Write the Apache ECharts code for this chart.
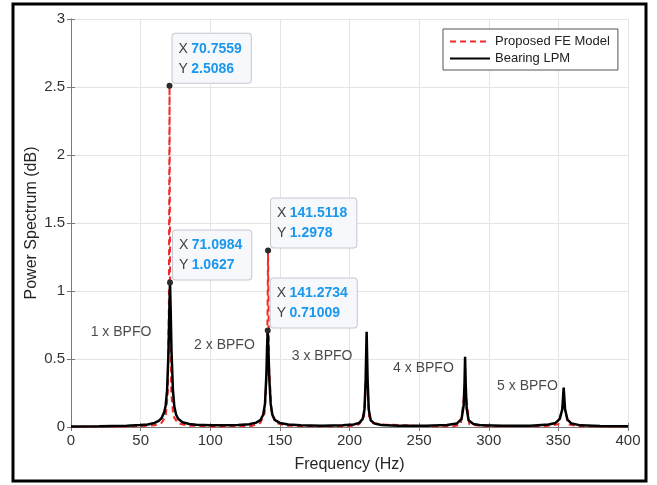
<!DOCTYPE html>
<html>
<head>
<meta charset="utf-8">
<script src="https://cdn.jsdelivr.net/npm/echarts@6/dist/echarts.min.js"></script>
<style>
  html, body { margin: 0; padding: 0; background: #fff; }
  #chart { width: 657px; height: 485px; }
</style>
</head>
<body>
<div id="chart"></div>
<script>
// 频谱数据
var lpmFreq = [0, 20, 40, 50, 55, 60, 63, 65, 67, 68, 69, 70, 70.6, 71.0984, 71.6, 72.2, 73.2, 74.2, 75.5, 77, 80, 85, 90, 100, 110, 120, 128, 133, 136, 138, 139.3, 140.3, 140.8, 141.2734, 141.8, 142.4, 143.4, 144.6, 146.5, 150, 156, 165, 180, 195, 203, 207, 209.5, 210.8, 211.6, 212.3, 213, 213.8, 215.2, 218, 223, 235, 255, 270, 277, 280.5, 282, 282.6, 283.0, 283.5, 284.1, 285.5, 289, 295, 310, 330, 343, 348, 351, 352.8, 353.8, 354.8, 356.5, 359.5, 366, 380, 400];
var lpmPower = [0.004, 0.006, 0.01, 0.014, 0.018, 0.03, 0.045, 0.065, 0.11, 0.16, 0.27, 0.55, 0.85, 1.0627, 0.85, 0.55, 0.27, 0.15, 0.09, 0.06, 0.035, 0.022, 0.016, 0.012, 0.012, 0.014, 0.02, 0.032, 0.05, 0.09, 0.17, 0.38, 0.58, 0.71009, 0.56, 0.36, 0.17, 0.09, 0.05, 0.03, 0.018, 0.012, 0.01, 0.012, 0.018, 0.03, 0.06, 0.13, 0.35, 0.70, 0.35, 0.13, 0.05, 0.025, 0.014, 0.01, 0.01, 0.014, 0.025, 0.06, 0.16, 0.32, 0.517, 0.3, 0.14, 0.05, 0.022, 0.012, 0.009, 0.01, 0.018, 0.03, 0.06, 0.13, 0.29, 0.13, 0.055, 0.025, 0.012, 0.008, 0.006];

var feFreq = [0, 30, 50, 60, 65, 68, 69.5, 70.3, 70.7559, 71.2, 72, 73.5, 77, 85, 100, 120, 130, 136, 139, 140.8, 141.5118, 142.2, 144, 147, 155, 170, 200, 207, 210.5, 212.27, 214, 217, 225, 240, 255, 275, 280, 283.0, 286, 295, 340, 350, 353.8, 357, 365, 400];
var fePower = [0.002, 0.003, 0.006, 0.012, 0.03, 0.08, 0.25, 0.9, 2.5086, 0.9, 0.25, 0.08, 0.025, 0.01, 0.004, 0.005, 0.008, 0.03, 0.1, 0.45, 1.2978, 0.45, 0.1, 0.03, 0.01, 0.005, 0.006, 0.02, 0.08, 0.45, 0.08, 0.03, 0.018, 0.012, 0.006, 0.006, 0.02, 0.3, 0.02, 0.006, 0.005, 0.02, 0.18, 0.02, 0.005, 0.003];

var seriesNames = ['Proposed FE Model', 'Bearing LPM'];
var xTicks = [0, 50, 100, 150, 200, 250, 300, 350, 400];
var yTicks = [0, 0.5, 1, 1.5, 2, 2.5, 3];

// 数据提示框
var feTips = [[70.7559, 2.5086], [141.5118, 1.2978]];
var lpmTips = [[71.0984, 1.0627], [141.2734, 0.71009]];

// 谐波标注
var harmonicText = ['1 x BPFO', '2 x BPFO', '3 x BPFO', '4 x BPFO', '5 x BPFO'];
var harmonicX = [35.9, 110.2, 180.3, 253.1, 327.8];
var harmonicY = [0.70, 0.60, 0.52, 0.435, 0.30];

var FONT = 'Liberation Sans, Arial, sans-serif';

function zip(a, b) {
    return a.map(function (v, i) { return [v, b[i]]; });
}

function tipFormat(v) {
    return '{k|X} {v|' + v[0] + '}\n{k|Y} {v|' + v[1] + '}';
}

function tipMarks(tips) {
    return {
        symbol: 'circle',
        symbolSize: 6,
        itemStyle: { color: '#2b2b2b' },
        label: {
            show: true,
            position: [6, -49],
            align: 'left',
            verticalAlign: 'top',
            backgroundColor: '#f6f8fb',
            borderColor: '#c4c8cf',
            borderWidth: 1,
            borderRadius: 3,
            padding: [5, 9, 4, 6],
            lineHeight: 20,
            formatter: function (p) { return tipFormat(p.data.coord); },
            rich: {
                k: { color: '#404040', fontSize: 14, fontFamily: FONT, lineHeight: 20 },
                v: { color: '#1a98ee', fontSize: 14, fontWeight: 'bold', fontFamily: FONT, lineHeight: 20 }
            }
        },
        data: tips.map(function (t) { return { coord: t }; })
    };
}

var chart = echarts.init(document.getElementById('chart'));

var axisLineColor = '#7a7a7a';

var option = {
    animation: false,
    backgroundColor: '#fff',
    grid: { left: 71, right: 29, top: 19, bottom: 58 },
    legend: {
        data: seriesNames,
        orient: 'vertical',
        left: 443,
        top: 29,
        itemWidth: 40,
        itemHeight: 12,
        itemGap: 4,
        padding: [6, 8, 5, 6],
        borderColor: '#555',
        borderWidth: 1,
        backgroundColor: '#fff',
        itemStyle: { opacity: 0 },
        textStyle: { fontSize: 13, color: '#222', fontFamily: FONT }
    },
    xAxis: [
        {
            type: 'value', min: 0, max: 400, interval: 50,
            name: 'Frequency (Hz)', nameLocation: 'middle', nameGap: 30,
            nameMoveOverlap: false,
            nameTextStyle: { fontSize: 16, color: '#262626', fontFamily: FONT },
            axisLine: { lineStyle: { color: axisLineColor } },
            axisTick: { inside: true, length: 4, lineStyle: { color: axisLineColor } },
            axisLabel: { margin: 6, fontSize: 15, color: '#333', fontFamily: FONT,
                         formatter: function (v) { return xTicks.indexOf(v) >= 0 ? v : ''; } },
            splitLine: { show: true, lineStyle: { color: '#e4e4e4' } }
        },
        {
            type: 'value', min: 0, max: 400, interval: 50, position: 'top',
            axisLine: { show: true, lineStyle: { color: axisLineColor } },
            axisTick: { inside: true, length: 4, lineStyle: { color: axisLineColor } },
            axisLabel: { show: false },
            splitLine: { show: false }
        }
    ],
    yAxis: [
        {
            type: 'value', min: 0, max: 3, interval: 0.5,
            name: 'Power Spectrum (dB)', nameLocation: 'middle', nameGap: 31,
            nameMoveOverlap: false,
            nameTextStyle: { fontSize: 16, color: '#262626', fontFamily: FONT },
            axisLine: { show: true, lineStyle: { color: axisLineColor } },
            axisTick: { show: true, inside: true, length: 4, lineStyle: { color: axisLineColor } },
            axisLabel: { margin: 6, fontSize: 15, color: '#333', fontFamily: FONT,
                         formatter: function (v) { return yTicks.indexOf(v) >= 0 ? v : ''; } },
            splitLine: { show: true, lineStyle: { color: '#e4e4e4' } }
        },
        {
            type: 'value', min: 0, max: 3, interval: 0.5, position: 'right',
            axisLine: { show: true, lineStyle: { color: axisLineColor } },
            axisTick: { show: true, inside: true, length: 4, lineStyle: { color: axisLineColor } },
            axisLabel: { show: false },
            splitLine: { show: false }
        }
    ],
    graphic: [
        {
            type: 'rect',
            shape: { x: 13, y: 4, width: 633, height: 477 },
            style: { fill: 'none', stroke: '#000', lineWidth: 3 },
            z: 100
        }
    ],
    series: [
        {
            name: seriesNames[0],
            type: 'line',
            data: zip(feFreq, fePower),
            symbol: 'none',
            lineStyle: { color: '#ee2a2a', width: 2, type: [6, 4] },
            itemStyle: { color: '#ee2a2a' },
            z: 2,
            markPoint: tipMarks(feTips)
        },
        {
            name: seriesNames[1],
            type: 'line',
            data: zip(lpmFreq, lpmPower),
            symbol: 'none',
            lineStyle: { color: '#000', width: 2.5 },
            itemStyle: { color: '#000' },
            z: 3,
            markPoint: tipMarks(lpmTips)
        },
        {
            name: 'labels',
            type: 'scatter',
            data: zip(harmonicX, harmonicY),
            symbolSize: 0,
            silent: true,
            label: {
                show: true,
                position: 'inside',
                fontSize: 14,
                color: '#1a1a1a',
                fontFamily: FONT,
                formatter: function (p) { return harmonicText[p.dataIndex]; }
            },
            z: 4
        }
    ]
};

chart.setOption(option);
</script>
</body>
</html>
